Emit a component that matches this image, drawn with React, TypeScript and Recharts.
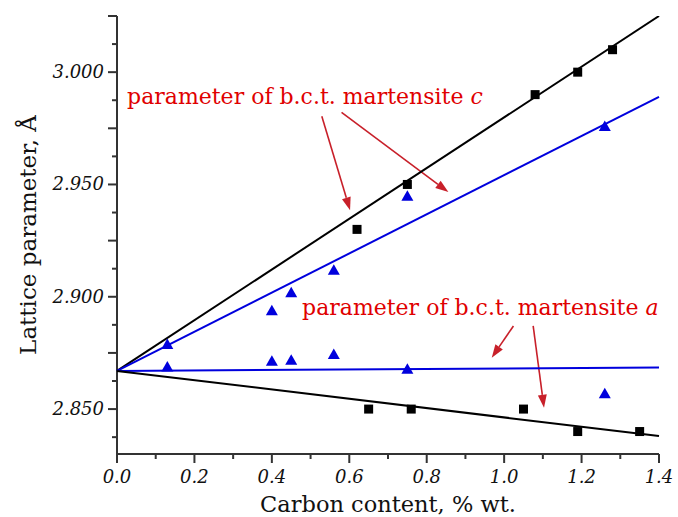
import React from 'react';
import { ComposedChart, Scatter, XAxis, YAxis, ReferenceLine, ReferenceDot, Label } from 'recharts';

// axis ticks
const xTicks = [0, 0.1, 0.2, 0.3, 0.4, 0.5, 0.6, 0.7, 0.8, 0.9, 1.0, 1.1, 1.2, 1.3, 1.4];
const xLabelTicks = [0, 0.2, 0.4, 0.6, 0.8, 1.0, 1.2, 1.4];
const yTicks = [2.8375, 2.85, 2.8625, 2.875, 2.8875, 2.9, 2.9125, 2.925, 2.9375, 2.95, 2.9625, 2.975, 2.9875, 3.0, 3.0125, 3.025];
const yMajorTicks = [2.85, 2.875, 2.9, 2.925, 2.95, 2.975, 3.0, 3.025];
const yLabelTicks = [2.85, 2.9, 2.95, 3.0];

// measured points
const squaresC = [
  { x: 0.62, y: 2.93 },
  { x: 0.75, y: 2.95 },
  { x: 1.08, y: 2.99 },
  { x: 1.19, y: 3.0 },
  { x: 1.28, y: 3.01 },
];
const squaresA = [
  { x: 0.65, y: 2.85 },
  { x: 0.76, y: 2.85 },
  { x: 1.05, y: 2.85 },
  { x: 1.19, y: 2.84 },
  { x: 1.35, y: 2.84 },
];
const trianglesC = [
  { x: 0.13, y: 2.879 },
  { x: 0.4, y: 2.894 },
  { x: 0.45, y: 2.902 },
  { x: 0.56, y: 2.912 },
  { x: 0.75, y: 2.945 },
  { x: 1.26, y: 2.976 },
];
const trianglesA = [
  { x: 0.13, y: 2.869 },
  { x: 0.4, y: 2.8715 },
  { x: 0.45, y: 2.872 },
  { x: 0.56, y: 2.8745 },
  { x: 0.75, y: 2.868 },
  { x: 1.26, y: 2.857 },
];

// fitted lines
const fitBlackC = [{ x: 0, y: 2.867 }, { x: 1.4, y: 3.025 }];
const fitBlueC = [{ x: 0, y: 2.867 }, { x: 1.4, y: 2.989 }];
const fitBlueA = [{ x: 0, y: 2.867 }, { x: 1.4, y: 2.8685 }];
const fitBlackA = [{ x: 0, y: 2.867 }, { x: 1.4, y: 2.838 }];

// annotation arrows (data coords)
const arrows = [
  [{ x: 0.529, y: 2.9804 }, { x: 0.602, y: 2.9385 }],
  [{ x: 0.58, y: 2.9821 }, { x: 0.856, y: 2.9466 }],
  [{ x: 1.024, y: 2.887 }, { x: 0.968, y: 2.8729 }],
  [{ x: 1.075, y: 2.887 }, { x: 1.103, y: 2.8506 }],
];
const notes = [
  { x: 0.026, y: 2.986, text: 'parameter of b.c.t. martensite ', sym: 'c' },
  { x: 0.478, y: 2.8918, text: 'parameter of b.c.t. martensite ', sym: 'a' },
];

const FONT = "'DejaVu Serif', serif";
const AXIS = '#333';
const BLUE = '#0000dd';
const RED = '#e00000';
const ARROW = '#c8202a';

const has = (list: number[], v: number) => list.some((t) => Math.abs(t - v) < 1e-6);

const XTick = ({ x, y, payload }: any) => {
  const major = has(xLabelTicks, payload.value);
  return (
    <g>
      <line x1={x} y1={y} x2={x} y2={y + (major ? 9 : 5)} stroke={AXIS} strokeWidth={2} />
      {major && (
        <text x={x} y={y + 29} textAnchor="middle" fontSize={18} fontStyle="italic" fill="#111" fontFamily={FONT}>
          {payload.value.toFixed(1)}
        </text>
      )}
    </g>
  );
};

const YTick = ({ x, y, payload }: any) => {
  const major = has(yMajorTicks, payload.value);
  const lab = has(yLabelTicks, payload.value);
  return (
    <g>
      <line x1={x - (major ? 9 : 5)} y1={y} x2={x} y2={y} stroke={AXIS} strokeWidth={2} />
      {lab && (
        <text x={x - 13} y={y + 6} textAnchor="end" fontSize={18} fontStyle="italic" fill="#111" fontFamily={FONT}>
          {payload.value.toFixed(3)}
        </text>
      )}
    </g>
  );
};

const Arrow = (p: any) => {
  const { x1, y1, x2, y2 } = p;
  const a = Math.atan2(y2 - y1, x2 - x1);
  const len = 13;
  const w = 4.5;
  const bx = x2 - len * Math.cos(a);
  const by = y2 - len * Math.sin(a);
  const px = -Math.sin(a) * w;
  const py = Math.cos(a) * w;
  return (
    <g>
      <line x1={x1} y1={y1} x2={bx} y2={by} stroke={ARROW} strokeWidth={1.6} />
      <polygon points={`${x2},${y2} ${bx + px},${by + py} ${bx - px},${by - py}`} fill={ARROW} />
    </g>
  );
};

const Square = ({ cx, cy }: any) => <rect x={cx - 4.5} y={cy - 4.5} width={9} height={9} fill="#000" />;
const Triangle = ({ cx, cy }: any) => (
  <polygon points={`${cx},${cy - 5.5} ${cx + 6},${cy + 5} ${cx - 6},${cy + 5}`} fill={BLUE} />
);
const NoDot = () => <g />;

export default function App() {
  return (
    <div style={{ position: 'fixed', left: 0, top: 0, background: '#fff' }}>
      <ComposedChart width={678} height={517} margin={{ top: 16, right: 19, left: 0, bottom: 0 }} style={{ fontFamily: FONT }}>
        <XAxis
          type="number"
          dataKey="x"
          domain={[0, 1.4]}
          ticks={xTicks}
          interval={0}
          height={63}
          tickSize={0}
          tickMargin={0}
          tickLine={false}
          tick={<XTick />}
          axisLine={{ stroke: AXIS, strokeWidth: 2 }}
        >
          <Label
            content={({ viewBox }: any) => (
              <text x={viewBox.x + viewBox.width / 2} y={viewBox.y + 58} textAnchor="middle" fontSize={22.5} fill="#111" fontFamily={FONT}>
                Carbon content, % wt.
              </text>
            )}
          />
        </XAxis>
        <YAxis
          type="number"
          dataKey="y"
          domain={[2.83, 3.025]}
          ticks={yTicks}
          interval={0}
          width={117}
          tickSize={0}
          tickMargin={0}
          tickLine={false}
          tick={<YTick />}
          allowDataOverflow
          axisLine={{ stroke: AXIS, strokeWidth: 2 }}
        >
          <Label
            content={({ viewBox }: any) => {
              const cx = viewBox.x + 36;
              const cy = viewBox.y + viewBox.height / 2;
              return (
                <text x={cx} y={cy} transform={`rotate(-90 ${cx} ${cy})`} textAnchor="middle" fontSize={23} fill="#111" fontFamily={FONT}>
                  Lattice parameter, Å
                </text>
              );
            }}
          />
        </YAxis>

        <Scatter data={fitBlackC} line={{ stroke: '#000', strokeWidth: 2 }} shape={NoDot} isAnimationActive={false} />
        <Scatter data={fitBlueC} line={{ stroke: BLUE, strokeWidth: 2 }} shape={NoDot} isAnimationActive={false} />
        <Scatter data={fitBlueA} line={{ stroke: BLUE, strokeWidth: 2 }} shape={NoDot} isAnimationActive={false} />
        <Scatter data={fitBlackA} line={{ stroke: '#000', strokeWidth: 2 }} shape={NoDot} isAnimationActive={false} />

        <Scatter data={squaresC} shape={Square} isAnimationActive={false} />
        <Scatter data={squaresA} shape={Square} isAnimationActive={false} />
        <Scatter data={trianglesC} shape={Triangle} isAnimationActive={false} />
        <Scatter data={trianglesA} shape={Triangle} isAnimationActive={false} />

        {arrows.map((seg, i) => (
          <ReferenceLine key={i} segment={seg} shape={Arrow} ifOverflow="visible" />
        ))}
        {notes.map((n, i) => (
          <ReferenceDot
            key={i}
            x={n.x}
            y={n.y}
            r={0}
            ifOverflow="visible"
            shape={(p: any) => (
              <text x={p.cx} y={p.cy} fontSize={22} fill={RED} fontFamily={FONT}>
                {n.text}
                <tspan fontStyle="italic">{n.sym}</tspan>
              </text>
            )}
          />
        ))}
      </ComposedChart>
    </div>
  );
}
